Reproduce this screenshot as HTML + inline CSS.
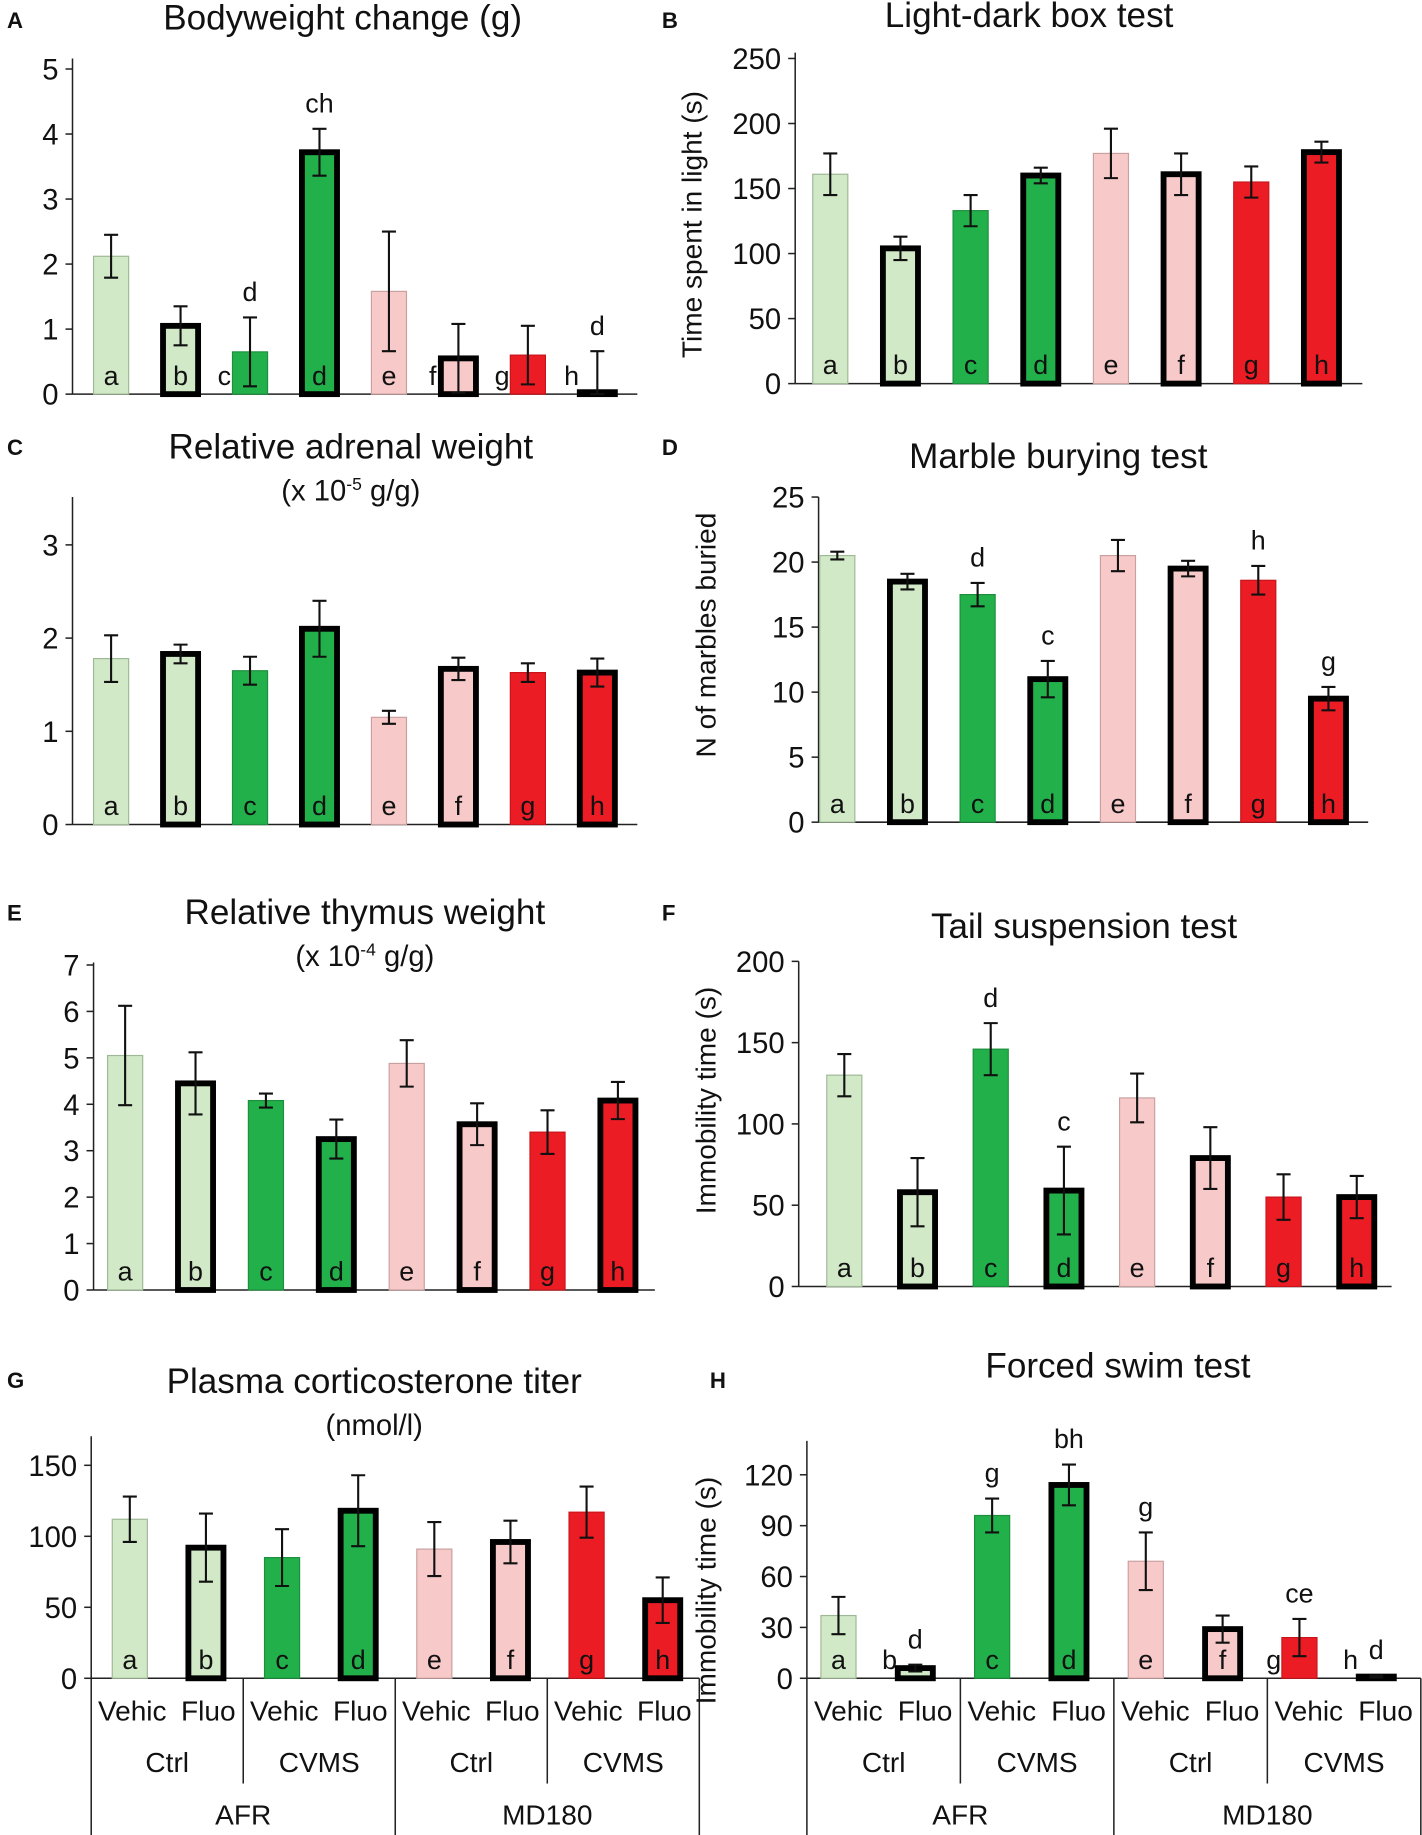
<!DOCTYPE html>
<html><head><meta charset="utf-8"><style>
html,body{margin:0;padding:0;background:#fff}
svg{display:block}
text{font-family:"Liberation Sans",sans-serif;fill:#111}
</style></head><body>
<svg id="fig" width="1422" height="1835" viewBox="0 0 1216 1569" preserveAspectRatio="none" xmlns="http://www.w3.org/2000/svg"></svg>
<script>
// ---- data ----
const groups = ["a","b","c","d","e","f","g","h"];
const bwValues = [2.12,1.05,0.65,3.72,1.58,0.55,0.6,0.03];
const bwErrors = [0.33,0.3,0.53,0.36,0.92,0.53,0.45,0.63];
const bwTicks = [0,1,2,3,4,5];
const ldValues = [161,104,133,160,177,161,155,178];
const ldErrors = [16,9,12,6,19,16,12,8];
const ldTicks = [0,50,100,150,200,250];
const adValues = [1.78,1.83,1.65,2.1,1.15,1.67,1.63,1.63];
const adErrors = [0.25,0.1,0.15,0.3,0.07,0.12,0.1,0.15];
const adTicks = [0,1,2,3];
const mbValues = [20.5,18.5,17.5,11,20.5,19.5,18.6,9.5];
const mbErrors = [0.3,0.6,0.9,1.4,1.2,0.6,1.1,0.9];
const mbTicks = [0,5,10,15,20,25];
const thValues = [5.05,4.45,4.08,3.25,4.88,3.57,3.4,4.08];
const thErrors = [1.07,0.67,0.15,0.42,0.5,0.45,0.47,0.4];
const thTicks = [0,1,2,3,4,5,6,7];
const tsValues = [130,58,146,59,116,79,55,55];
const tsErrors = [13,21,16,27,15,19,14,13];
const tsTicks = [0,50,100,150,200];
const coValues = [112,92,85,118,91,96,117,55];
const coErrors = [16,24,20,25,19,15,18,16];
const coTicks = [0,50,100,150];
const fsValues = [37,6,96,114,69,29,24,1];
const fsErrors = [11,2,10,12,17,8,11,0.6];
const fsTicks = [0,30,60,90,120];
const bwAnnot = ["","","d","ch","","","","d"];
const mbAnnot = ["","","d","c","","","h","g"];
const tsAnnot = ["","","d","c","","","",""];
const fsAnnot = ["","d","g","bh","g","","ce","d"];
const treatLabels = ["Vehic","Fluo"];
const stressLabels = ["Ctrl","CVMS","Ctrl","CVMS"];
const strainLabels = ["AFR","MD180"];

const fills = ["#d1e9c7","#d1e9c7","#22b04b","#22b04b","#f8c9c9","#f8c9c9","#ec1c24","#ec1c24"];
const thick = [false,true,false,true,false,true,false,true];
const svg = document.getElementById('fig');
const NS = "http://www.w3.org/2000/svg";
function mk(tag, attrs, parent){const e=document.createElementNS(NS,tag);for(const k in attrs)e.setAttribute(k,attrs[k]);(parent||svg).appendChild(e);return e;}
function txt(s,x,y,size,anchor,parent,extra){const t=mk('text',Object.assign({x:x,y:y,'font-size':size,'text-anchor':anchor||'middle'},extra||{}),parent);t.textContent=s;return t;}

function panel(cfg){
  const g = mk('g',{});
  
  
  const y = v => cfg.y0 - (v/cfg.unit)*cfg.pxPerUnit;
  const x = i => cfg.x1 + i*cfg.dx;
  const pl = txt(cfg.letter, cfg.lx, cfg.ly, 19, 'start', g, {'font-weight':'bold'});
  
  
  const t1 = txt(cfg.title, cfg.tx, cfg.ty, 30, 'middle', g);
  
  
  if(cfg.sub){
    const t2 = mk('text',{x:cfg.tx,y:cfg.ty+36,'font-size':25,'text-anchor':'middle'},g);
    
    
    t2.innerHTML = cfg.sub;
  }
  const ax = mk('line',{x1:cfg.ax,x2:cfg.ax,y1:cfg.axTop,y2:cfg.y0,stroke:'#222','stroke-width':1.3},g);
  
  
  const base = mk('line',{x1:cfg.ax,x2:cfg.axEnd,y1:cfg.y0,y2:cfg.y0,stroke:'#222','stroke-width':1.3},g);
  
  
  cfg.ticks.forEach(v=>{
    mk('line',{x1:cfg.ax-6,x2:cfg.ax,y1:y(v),y2:y(v),stroke:'#222','stroke-width':1.3},g);
    const tl = txt(String(v), cfg.ax-12, y(v)+9, 25, 'end', g);
    
    
  });
  if(cfg.ylabel){
    const yl = txt(cfg.ylabel, 0, 0, 24, 'middle', g, {transform:`translate(${cfg.ylx},${cfg.yly}) rotate(-90)`});
    
    
  }
  cfg.values.forEach((v,i)=>{
    const cx = x(i), top = y(v), h = cfg.y0-top;
    let r;
    if(thick[i]){
      r = mk('rect',{x:cx-15,y:top,width:30,height:Math.max(h,0.5),fill:fills[i],stroke:'#000','stroke-width':5},g);
    } else {
      r = mk('rect',{x:cx-15,y:top,width:30,height:h,fill:fills[i],stroke:i<2?'#9fb896':(i<4?'#1c8f3c':(i<6?'#c9a0a0':'#c8151c')),'stroke-width':1}, g);
    }
    
    
    const e = cfg.errors[i], yt = y(v+e), yb = y(Math.max(v-e, 0));
    const eb = mk('path',{d:`M${cx},${yt}V${yb}M${cx-6},${yt}H${cx+6}M${cx-6},${yb}H${cx+6}`,stroke:'#111','stroke-width':1.8,fill:'none'},g);
    
    
    const left = cfg.leftLetters && cfg.leftLetters.includes(groups[i]);
    const lt = txt(groups[i], left? cx-22 : cx, cfg.y0-8, 23, 'middle', g);
    
    
    if(cfg.annot && cfg.annot[i]){
      const an = txt(cfg.annot[i], cx, yt-14, 23, 'middle', g);
      
      
    }
  });
  if(cfg.table){
    const w = (cfg.axEnd-cfg.ax)/4;
    for(let k=0;k<=4;k++){
      const lx = cfg.ax + k*w;
      const bottom = (k%2===0)? 1569 : cfg.y0+90;
      mk('line',{x1:lx,x2:lx,y1:cfg.y0,y2:bottom,stroke:'#222','stroke-width':1.3},g);
    }
    for(let k=0;k<4;k++){
      const c = cfg.ax + k*w;
      for(let j=0;j<2;j++){
        const tl = txt(treatLabels[j], c + w*(j===0?0.27:0.77), cfg.y0+36, 24, 'middle', g);
        
        
      }
      const sl = txt(stressLabels[k], c + w/2, cfg.y0+80, 24, 'middle', g);
      
      
    }
    for(let k=0;k<2;k++){
      const st = txt(strainLabels[k], cfg.ax + (k*2+1)*w, cfg.y0+125, 24, 'middle', g);
      
      
    }
  }
}

panel({name:'panel-a-bodyweight',letter:'A',lx:6,ly:24,title:'Bodyweight change (g)',tx:293,ty:25,
  ax:62,axTop:50,axEnd:545,y0:337,unit:1,pxPerUnit:55.6,ticks:bwTicks,x1:95,dx:59.4,
  values:bwValues,errors:bwErrors,annot:bwAnnot,leftLetters:['c','f','g','h']});
panel({name:'panel-b-light-dark',letter:'B',lx:566,ly:24,title:'Light-dark box test',tx:880,ty:23,
  ax:680,axTop:45,axEnd:1165,y0:328,unit:50,pxPerUnit:55.6,ticks:ldTicks,x1:710,dx:60,
  values:ldValues,errors:ldErrors,ylabel:'Time spent in light (s)',ylx:600,yly:192});
panel({name:'panel-c-adrenal',letter:'C',lx:6,ly:389,title:'Relative adrenal weight',tx:300,ty:392,
  sub:'(x 10<tspan dy="-9" font-size="15">-5</tspan><tspan dy="9"> g/g)</tspan>',
  ax:62,axTop:425,axEnd:545,y0:705,unit:1,pxPerUnit:79.7,ticks:adTicks,x1:95,dx:59.4,
  values:adValues,errors:adErrors});
panel({name:'panel-d-marble',letter:'D',lx:566,ly:389,title:'Marble burying test',tx:905,ty:400,
  ax:700,axTop:425,axEnd:1170,y0:703,unit:5,pxPerUnit:55.6,ticks:mbTicks,x1:716,dx:60,
  values:mbValues,errors:mbErrors,annot:mbAnnot,ylabel:'N of marbles buried',ylx:612,yly:543});
panel({name:'panel-e-thymus',letter:'E',lx:6,ly:787,title:'Relative thymus weight',tx:312,ty:790,
  sub:'(x 10<tspan dy="-9" font-size="15">-4</tspan><tspan dy="9"> g/g)</tspan>',
  ax:80,axTop:823,axEnd:560,y0:1103,unit:1,pxPerUnit:39.7,ticks:thTicks,x1:107,dx:60.2,
  values:thValues,errors:thErrors});
panel({name:'panel-f-tail-suspension',letter:'F',lx:566,ly:787,title:'Tail suspension test',tx:927,ty:802,
  ax:683,axTop:822,axEnd:1190,y0:1100,unit:50,pxPerUnit:69.5,ticks:tsTicks,x1:722,dx:62.6,
  values:tsValues,errors:tsErrors,annot:tsAnnot,ylabel:'Immobility time (s)',ylx:612,yly:941});
panel({name:'panel-g-corticosterone',letter:'G',lx:6,ly:1187,title:'Plasma corticosterone titer',tx:320,ty:1191,
  sub:'(nmol/l)',
  ax:78,axTop:1228,axEnd:598,y0:1435,unit:50,pxPerUnit:60.7,ticks:coTicks,x1:111,dx:65.1,
  values:coValues,errors:coErrors,table:true});
panel({name:'panel-h-forced-swim',letter:'H',lx:607,ly:1187,title:'Forced swim test',tx:956,ty:1178,
  ax:690,axTop:1232,axEnd:1215,y0:1435,unit:30,pxPerUnit:43.5,ticks:fsTicks,x1:717,dx:65.7,
  values:fsValues,errors:fsErrors,annot:fsAnnot,leftLetters:['b','g','h'],table:true,
  ylabel:'Immobility time (s)',ylx:612,yly:1360});
</script>
</body></html>
